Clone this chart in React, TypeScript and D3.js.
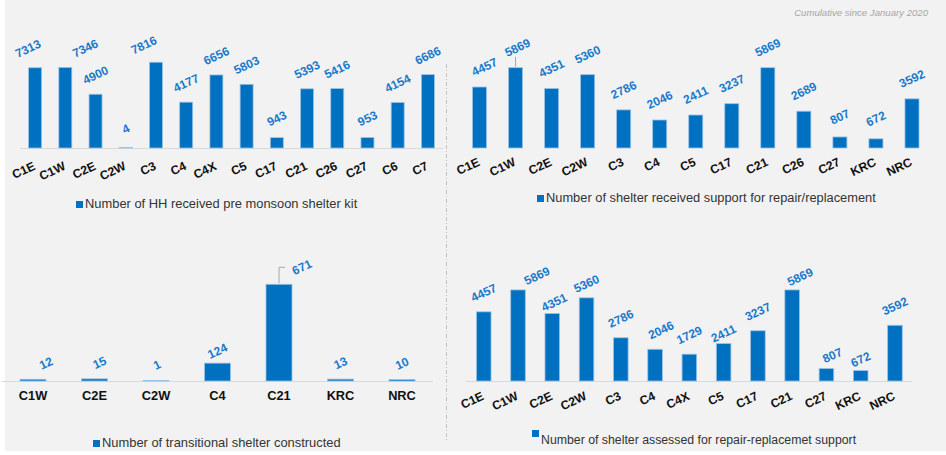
import React from "react";
import * as d3 from "d3";

// ---------- data ----------
const kitCategories = ["C1E", "C1W", "C2E", "C2W", "C3", "C4", "C4X", "C5", "C17", "C21", "C26", "C27", "C6", "C7"];
const kitValues = [7313, 7346, 4900, 4, 7816, 4177, 6656, 5803, 943, 5393, 5416, 953, 4154, 6686];

const repairCategories = ["C1E", "C1W", "C2E", "C2W", "C3", "C4", "C5", "C17", "C21", "C26", "C27", "KRC", "NRC"];
const repairValues = [4457, 5869, 4351, 5360, 2786, 2046, 2411, 3237, 5869, 2689, 807, 672, 3592];

const transitionalCategories = ["C1W", "C2E", "C2W", "C4", "C21", "KRC", "NRC"];
const transitionalValues = [12, 15, 1, 124, 671, 13, 10];

const assessedCategories = ["C1E", "C1W", "C2E", "C2W", "C3", "C4", "C4X", "C5", "C17", "C21", "C27", "KRC", "NRC"];
const assessedValues = [4457, 5869, 4351, 5360, 2786, 2046, 1729, 2411, 3237, 5869, 807, 672, 3592];

const legendKit = "Number of HH received pre monsoon shelter kit";
const legendRepair = "Number of shelter received support for repair/replacement";
const legendTransitional = "Number of transitional shelter constructed";
const legendAssessed = "Number of shelter assessed for repair-replacemet support";
const noteText = "Cumulative since January 2020";

// ---------- style ----------
const FONT = "'Liberation Sans', Arial, Helvetica, sans-serif";
const BAR = "#0070C0";
const BAR_EDGE = "#9cc3e5";
const LABEL = "#1878CC";
const BG = "#f2f2f2";

type Nudge = { [k: string]: [number, number] };

interface PanelProps {
  cats: string[];
  vals: number[];
  x0: number;
  x1: number;
  padInner: number;
  base: number;
  yMax: number;
  yTopPx: number;
  labelDy: number;
  nudges?: Nudge;
  leaders?: { [k: string]: "vertical" | "elbow" };
  rotateCats: boolean;
  catDy: number;
  axis?: [number, number] | null;
  legend: string;
  legendX: number;
  legendY: number;
  legendSize: number;
  legendSquareDy?: number;
}

function BarPanel(p: PanelProps) {
  const x = d3
    .scaleBand<string>()
    .domain(p.cats)
    .range([p.x0, p.x1])
    .paddingInner(p.padInner)
    .paddingOuter(p.padInner / 2);
  const y = d3.scaleLinear().domain([0, p.yMax]).range([p.base, p.yTopPx]);
  const bw = x.bandwidth();
  return (
    <g>
      {p.axis && (
        <line x1={p.axis[0]} x2={p.axis[1]} y1={p.base + 0.5} y2={p.base + 0.5} stroke="#d9d9d9" strokeWidth={1} />
      )}
      {p.cats.map((c, i) => {
        const v = p.vals[i];
        const bx = x(c) as number;
        const cx = bx + bw / 2;
        const top = y(v);
        const h = Math.max(0.6, p.base - top);
        const nd = (p.nudges && p.nudges[c]) || [0, 0];
        const lx = cx + nd[0];
        const ly = top + p.labelDy + nd[1];
        const leader = p.leaders && p.leaders[c];
        return (
          <g key={c}>
            <rect x={bx} y={p.base - h} width={bw} height={h} fill={BAR} stroke={BAR_EDGE} strokeWidth={0.8} />
            {leader === "vertical" && (
              <line x1={cx} x2={cx} y1={ly + 9} y2={top - 1} stroke="#a6a6a6" strokeWidth={1} />
            )}
            {leader === "elbow" && (
              <polyline
                points={`${cx},${top - 1} ${cx},${ly} ${cx + 6},${ly}`}
                fill="none"
                stroke="#a6a6a6"
                strokeWidth={1}
              />
            )}
            <text
              transform={`translate(${lx},${ly}) rotate(-25)`}
              textAnchor="middle"
              dominantBaseline="central"
              fontFamily={FONT}
              fontWeight="bold"
              fontSize={12}
              fill={LABEL}
            >
              {v}
            </text>
            {p.rotateCats ? (
              <text
                transform={`translate(${cx + 1},${p.base + p.catDy}) rotate(-25)`}
                textAnchor="end"
                fontFamily={FONT}
                fontWeight="bold"
                fontSize={12.2}
                fill="#111"
              >
                {c}
              </text>
            ) : (
              <text
                x={cx}
                y={p.base + p.catDy}
                textAnchor="middle"
                fontFamily={FONT}
                fontWeight="bold"
                fontSize={12.8}
                fill="#111"
              >
                {c}
              </text>
            )}
          </g>
        );
      })}
      <rect x={p.legendX} y={p.legendY - 7 + (p.legendSquareDy || 0)} width={7} height={7} fill={BAR} />
      <text x={p.legendX + 9} y={p.legendY} fontFamily={FONT} fontSize={p.legendSize} fill="#333">
        {p.legend}
      </text>
    </g>
  );
}

export default function App() {
  return (
    <svg
      width={946}
      height={455}
      style={{ position: "absolute", left: 0, top: 0, display: "block" }}
    >
      <rect x={0} y={0} width={946} height={455} fill="#ffffff" />
      <rect x={5} y={0} width={941} height={451} fill={BG} />
      <line x1={446.5} x2={446.5} y1={64} y2={440} stroke="#bfbfbf" strokeWidth={1} strokeDasharray="4,2,1,2" />
      <text x={928} y={16} textAnchor="end" fontFamily={FONT} fontStyle="italic" fontSize={9.6} fill="#a6a6a6">
        {noteText}
      </text>

      <BarPanel
        cats={kitCategories}
        vals={kitValues}
        x0={20}
        x1={443}
        padInner={0.57}
        base={148}
        yMax={8000}
        yTopPx={60.2}
        labelDy={-19}
        nudges={{ C1E: [-7, 0], C1W: [20, 0], C3: [-12, 2] }}
        rotateCats={true}
        catDy={21}
        axis={[20, 443]}
        legend={legendKit}
        legendX={76}
        legendY={208}
        legendSize={12.9}
      />
      <BarPanel
        cats={repairCategories}
        vals={repairValues}
        x0={461.5}
        x1={930}
        padInner={0.61}
        base={148}
        yMax={6000}
        yTopPx={65.9}
        labelDy={-20}
        nudges={{ C1E: [5, 0], C1W: [2, 0] }}
        leaders={{ C1W: "vertical" }}
        rotateCats={true}
        catDy={17}
        axis={null}
        legend={legendRepair}
        legendX={537}
        legendY={202}
        legendSize={12.85}
      />
      <BarPanel
        cats={transitionalCategories}
        vals={transitionalValues}
        x0={2.25}
        x1={432.75}
        padInner={0.577}
        base={381}
        yMax={700}
        yTopPx={280.1}
        labelDy={-16}
        nudges={{ C1W: [13, 0], C2E: [5, 0], C2W: [1, 0], C4: [0, 4], C21: [23, -1] }}
        leaders={{ C21: "elbow" }}
        rotateCats={false}
        catDy={19}
        axis={[2, 433]}
        legend={legendTransitional}
        legendX={93}
        legendY={447}
        legendSize={12.9}
      />
      <BarPanel
        cats={assessedCategories}
        vals={assessedValues}
        x0={466.6}
        x1={912.1}
        padInner={0.574}
        base={381}
        yMax={6000}
        yTopPx={287.9}
        labelDy={-19}
        nudges={{
          C1W: [19, 5],
          C2E: [2, 8],
          C2W: [0, 5],
          C4: [6, 0],
          C5: [0, 9],
          C21: [8, 6],
          C27: [6, 6],
          KRC: [0, 8],
        }}
        rotateCats={true}
        catDy={18}
        axis={[466, 912]}
        legend={legendAssessed}
        legendX={532}
        legendY={444}
        legendSize={12.3}
        legendSquareDy={-7}
      />
    </svg>
  );
}
